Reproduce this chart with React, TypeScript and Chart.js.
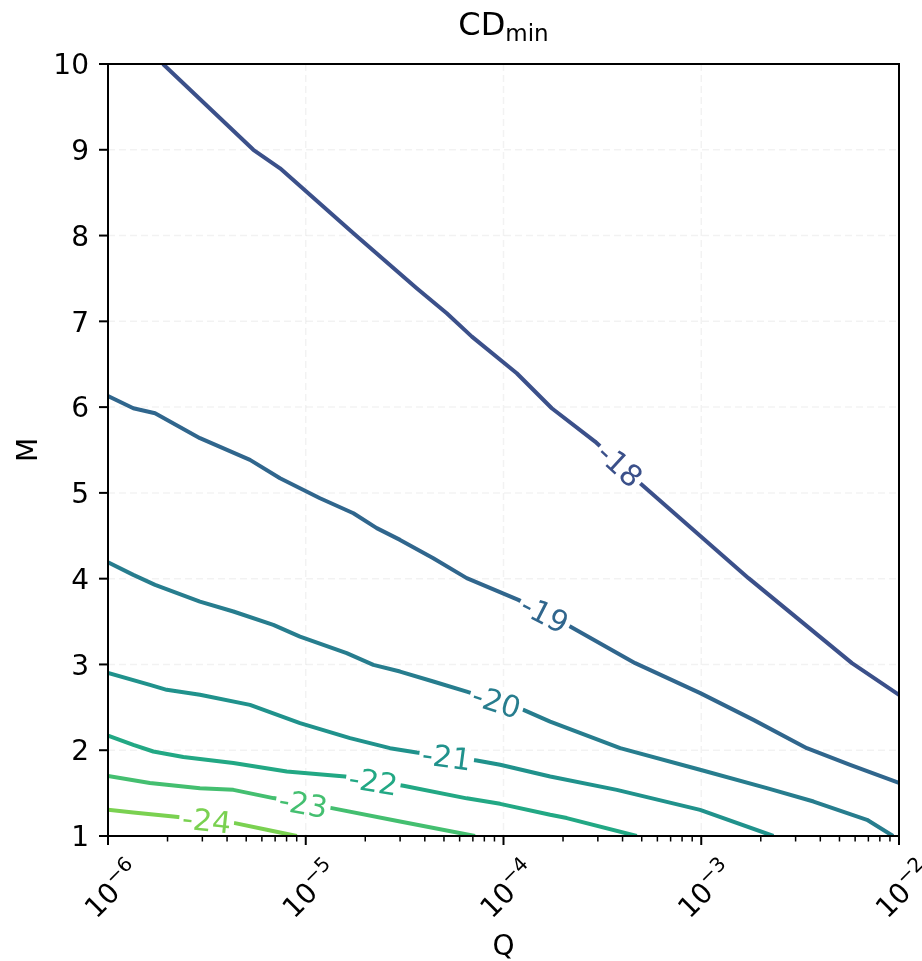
import React, { useEffect, useRef } from "react";
import { Chart, registerables } from "chart.js";

Chart.register(...registerables);

const FONT = '"DejaVu Sans", "Liberation Sans", sans-serif';

// Axis ticks
const xTickExponents = [-6, -5, -4, -3, -2];
const yTicks = [1, 2, 3, 4, 5, 6, 7, 8, 9, 10];

// Contour levels and colours (viridis-like)
const levels = [-18, -19, -20, -21, -22, -23, -24];
const levelColors = ["#3b508a", "#30668d", "#277d8e", "#20928c", "#22a884", "#44bf70", "#7ad151"];

// Contour paths: log10(Q) and M
const c18LogQ = [-5.722, -5.265, -5.13, -4.759, -4.439, -4.287, -4.16, -3.933, -3.756, -3.537, -3.309, -2.761, -2.238, -2.0];
const c18M = [10.0, 9.0, 8.784, 8.027, 7.386, 7.094, 6.822, 6.395, 5.987, 5.598, 5.113, 4.006, 3.015, 2.646];

const c19LogQ = [-6.0, -5.872, -5.762, -5.535, -5.282, -5.13, -4.928, -4.759, -4.641, -4.523, -4.355, -4.186, -3.925, -3.663, -3.334, -3.005, -2.736, -2.466, -2.247, -2.0];
const c19M = [6.13, 5.987, 5.929, 5.638, 5.385, 5.171, 4.938, 4.763, 4.589, 4.452, 4.239, 4.006, 3.753, 3.442, 3.015, 2.666, 2.354, 2.024, 1.83, 1.62];

const c20LogQ = [-6.0, -5.872, -5.762, -5.535, -5.366, -5.164, -5.029, -4.793, -4.658, -4.523, -4.355, -4.186, -3.899, -3.764, -3.41, -3.006, -2.668, -2.432, -2.162, -2.03];
const c20M = [4.19, 4.044, 3.928, 3.733, 3.617, 3.462, 3.325, 3.132, 2.995, 2.917, 2.801, 2.684, 2.471, 2.334, 2.024, 1.772, 1.558, 1.402, 1.189, 1.0];

const c21LogQ = [-6.0, -5.788, -5.703, -5.535, -5.282, -5.029, -4.776, -4.574, -4.439, -4.135, -4.017, -3.764, -3.427, -3.006, -2.635];
const c21M = [2.9, 2.762, 2.704, 2.646, 2.529, 2.316, 2.141, 2.024, 1.973, 1.88, 1.83, 1.694, 1.538, 1.305, 1.0];

const c22LogQ = [-6.0, -5.872, -5.771, -5.619, -5.366, -5.096, -4.801, -4.506, -4.186, -4.017, -3.764, -3.68, -3.326];
const c22M = [2.17, 2.063, 1.985, 1.92, 1.85, 1.752, 1.694, 1.585, 1.439, 1.375, 1.247, 1.209, 1.0];

const c23LogQ = [-6.0, -5.788, -5.535, -5.366, -5.164, -4.868, -4.523, -4.144];
const c23M = [1.7, 1.617, 1.558, 1.538, 1.442, 1.325, 1.169, 1.0];

const c24LogQ = [-6.0, -5.872, -5.67, -5.358, -5.197, -5.045];
const c24M = [1.305, 1.274, 1.227, 1.15, 1.072, 1.0];

// Inline label positions (log10 Q) along each contour
const labelLogQ = [-3.41, -3.79, -4.034, -4.287, -4.658, -5.012, -5.501];

const contourLogQ = [c18LogQ, c19LogQ, c20LogQ, c21LogQ, c22LogQ, c23LogQ, c24LogQ];
const contourM = [c18M, c19M, c20M, c21M, c22M, c23M, c24M];

const TICK_FS = 28;
const LABEL_FS = 30;

export default function App() {
  const ref = useRef<HTMLCanvasElement>(null);

  useEffect(() => {
    const canvas = ref.current;
    if (!canvas) return;

    const datasets = levels.map((lv, i) => ({
      label: String(lv),
      data: contourLogQ[i].map((e, j) => ({ x: Math.pow(10, e), y: contourM[i][j] })),
      borderColor: levelColors[i],
      backgroundColor: levelColors[i],
      borderWidth: 4,
      borderJoinStyle: "round" as const,
      pointRadius: 0,
      pointHoverRadius: 0,
      showLine: true,
      tension: 0,
      fill: false,
    }));

    const decor = {
      id: "mplDecor",
      beforeDatasetsDraw(chart: any) {
        const { ctx, chartArea: a, scales } = chart;
        const xs = scales.x;
        const ys = scales.y;
        ctx.save();
        ctx.strokeStyle = "rgba(0,0,0,0.05)";
        ctx.lineWidth = 1.5;
        ctx.setLineDash([7, 4]);
        xTickExponents.forEach((e) => {
          const x = xs.getPixelForValue(Math.pow(10, e));
          ctx.beginPath();
          ctx.moveTo(x, a.top);
          ctx.lineTo(x, a.bottom);
          ctx.stroke();
        });
        yTicks.forEach((v) => {
          const y = ys.getPixelForValue(v);
          ctx.beginPath();
          ctx.moveTo(a.left, y);
          ctx.lineTo(a.right, y);
          ctx.stroke();
        });
        ctx.restore();
      },
      afterDatasetsDraw(chart: any) {
        const { ctx, chartArea: a, scales } = chart;
        const xs = scales.x;
        const ys = scales.y;

        // Inline contour labels
        levels.forEach((lv, i) => {
          const px = contourLogQ[i].map((e) => xs.getPixelForValue(Math.pow(10, e)));
          const py = contourM[i].map((m) => ys.getPixelForValue(m));
          const lx = xs.getPixelForValue(Math.pow(10, labelLogQ[i]));
          let j = 0;
          while (j < px.length - 2 && px[j + 1] < lx) j++;
          const t = (lx - px[j]) / (px[j + 1] - px[j]);
          const ly = py[j] + t * (py[j + 1] - py[j]);
          const ang = Math.atan2(py[j + 1] - py[j], px[j + 1] - px[j]);
          const text = "-" + Math.abs(lv);
          ctx.save();
          ctx.translate(lx, ly);
          ctx.rotate(ang);
          ctx.font = `${LABEL_FS}px ${FONT}`;
          const tw = ctx.measureText(text).width;
          ctx.fillStyle = "#ffffff";
          ctx.fillRect(-tw / 2 - 3, -8, tw + 6, 16);
          ctx.fillStyle = levelColors[i];
          ctx.textAlign = "center";
          ctx.textBaseline = "alphabetic";
          ctx.fillText(text, 0, LABEL_FS * 0.364);
          ctx.restore();
        });

        // Frame
        ctx.save();
        ctx.strokeStyle = "#000";
        ctx.lineWidth = 2;
        ctx.setLineDash([]);
        ctx.strokeRect(a.left, a.top, a.right - a.left, a.bottom - a.top);

        // Y ticks + labels
        ctx.fillStyle = "#000";
        ctx.font = `${TICK_FS}px ${FONT}`;
        ctx.textAlign = "right";
        ctx.textBaseline = "alphabetic";
        yTicks.forEach((v) => {
          const y = ys.getPixelForValue(v);
          ctx.beginPath();
          ctx.moveTo(a.left - 9, y);
          ctx.lineTo(a.left, y);
          ctx.stroke();
          ctx.fillText(String(v), a.left - 19, y + TICK_FS * 0.364);
        });

        // X major/minor ticks
        xTickExponents.forEach((e) => {
          const x = xs.getPixelForValue(Math.pow(10, e));
          ctx.lineWidth = 2;
          ctx.beginPath();
          ctx.moveTo(x, a.bottom);
          ctx.lineTo(x, a.bottom + 9);
          ctx.stroke();
          if (e < -2) {
            ctx.lineWidth = 1.5;
            for (let k = 2; k <= 9; k++) {
              const xm = xs.getPixelForValue(k * Math.pow(10, e));
              ctx.beginPath();
              ctx.moveTo(xm, a.bottom);
              ctx.lineTo(xm, a.bottom + 5.5);
              ctx.stroke();
            }
          }
        });

        // X tick labels: 10^e rotated 45 deg
        const supFs = Math.round(TICK_FS * 0.7);
        xTickExponents.forEach((e) => {
          const x = xs.getPixelForValue(Math.pow(10, e));
          ctx.font = `${TICK_FS}px ${FONT}`;
          const w1 = ctx.measureText("10").width;
          ctx.font = `${supFs}px ${FONT}`;
          const sup = "\u2212" + Math.abs(e);
          const w2 = ctx.measureText(sup).width;
          const W = w1 + w2;
          const H = 26;
          const cy = a.bottom + 9 + 10 + ((W + H) * Math.SQRT1_2) / 2;
          ctx.save();
          ctx.translate(x + 2, cy);
          ctx.rotate(-Math.PI / 4);
          ctx.textAlign = "left";
          ctx.font = `${TICK_FS}px ${FONT}`;
          ctx.fillText("10", -W / 2, 13);
          ctx.font = `${supFs}px ${FONT}`;
          ctx.fillText(sup, -W / 2 + w1, 13 - 12);
          ctx.restore();
        });

        // Axis labels
        ctx.font = `${TICK_FS}px ${FONT}`;
        ctx.textAlign = "center";
        ctx.fillText("Q", (a.left + a.right) / 2, 955);
        ctx.save();
        ctx.translate(37, (a.top + a.bottom) / 2);
        ctx.rotate(-Math.PI / 2);
        ctx.textAlign = "center";
        ctx.fillText("M", 0, 0);
        ctx.restore();

        // Title CD_min
        const cx = (a.left + a.right) / 2;
        ctx.font = `32px ${FONT}`;
        const tw1 = ctx.measureText("CD").width;
        ctx.font = `23px ${FONT}`;
        const tw2 = ctx.measureText("min").width;
        const sx = cx - (tw1 + tw2) / 2;
        ctx.textAlign = "left";
        ctx.font = `32px ${FONT}`;
        ctx.fillText("CD", sx, 34.5);
        ctx.font = `23px ${FONT}`;
        ctx.fillText("min", sx + tw1, 41);
        ctx.restore();
      },
    };

    const chart = new Chart(canvas, {
      type: "scatter",
      data: { datasets },
      options: {
        responsive: false,
        animation: false,
        devicePixelRatio: 1,
        events: [],
        layout: { padding: { left: 108, right: 23, top: 64, bottom: 125 } },
        plugins: {
          legend: { display: false },
          tooltip: { enabled: false },
          title: { display: false },
        },
        scales: {
          x: { type: "logarithmic", min: 1e-6, max: 1e-2, display: false },
          y: { type: "linear", min: 1, max: 10, display: false },
        },
      },
      plugins: [decor],
    } as any);

    return () => chart.destroy();
  }, []);

  return (
    <div style={{ position: "absolute", left: 0, top: 0, width: 922, height: 961, background: "#fff" }}>
      <canvas ref={ref} width={922} height={961} style={{ display: "block", width: 922, height: 961 }} />
    </div>
  );
}
